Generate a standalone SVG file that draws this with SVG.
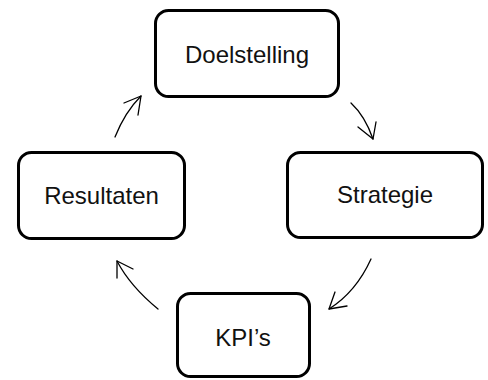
<svg xmlns="http://www.w3.org/2000/svg" width="488" height="380" viewBox="0 0 488 380">
  <style>
    .box { fill: #ffffff; stroke: #000000; stroke-width: 3; }
    .label { font-family: "Liberation Sans", Arial, sans-serif; font-size: 24px; fill: #111111; text-anchor: middle; }
    .flow { fill: none; stroke: #000000; stroke-width: 1.3; stroke-linecap: round; stroke-linejoin: round; }
  </style>
  <rect width="488" height="380" fill="#ffffff"/>

  <g id="connectors">
    <!-- Doelstelling -> Strategie -->
    <path class="flow" d="M351,103 Q365,116 373,139"/>
    <polyline class="flow" points="358,127 373,139 376,122"/>
    <!-- Strategie -> KPI's -->
    <path class="flow" d="M371,259 Q356,292 329,309"/>
    <polyline class="flow" points="335,292 329,309 347,306"/>
    <!-- KPI's -> Resultaten -->
    <path class="flow" d="M158,309 Q130,286 117,261"/>
    <polyline class="flow" points="117,278 117,261 133,269"/>
    <!-- Resultaten -> Doelstelling -->
    <path class="flow" d="M115,137 Q125,112 141,96"/>
    <polyline class="flow" points="124,103 141,96 138,115"/>
  </g>

  <g id="doelstelling">
    <rect class="box" x="155.5" y="10.5" width="183" height="86" rx="13"/>
    <text class="label" x="247" y="63">Doelstelling</text>
  </g>

  <g id="strategie">
    <rect class="box" x="287.5" y="152.5" width="195" height="85" rx="13"/>
    <text class="label" x="385" y="203">Strategie</text>
  </g>

  <g id="kpis">
    <rect class="box" x="177.5" y="293.5" width="132" height="83" rx="13"/>
    <text class="label" x="243" y="346">KPI’s</text>
  </g>

  <g id="resultaten">
    <rect class="box" x="18.5" y="152.5" width="166" height="86" rx="13"/>
    <text class="label" x="101.5" y="204">Resultaten</text>
  </g>
</svg>
